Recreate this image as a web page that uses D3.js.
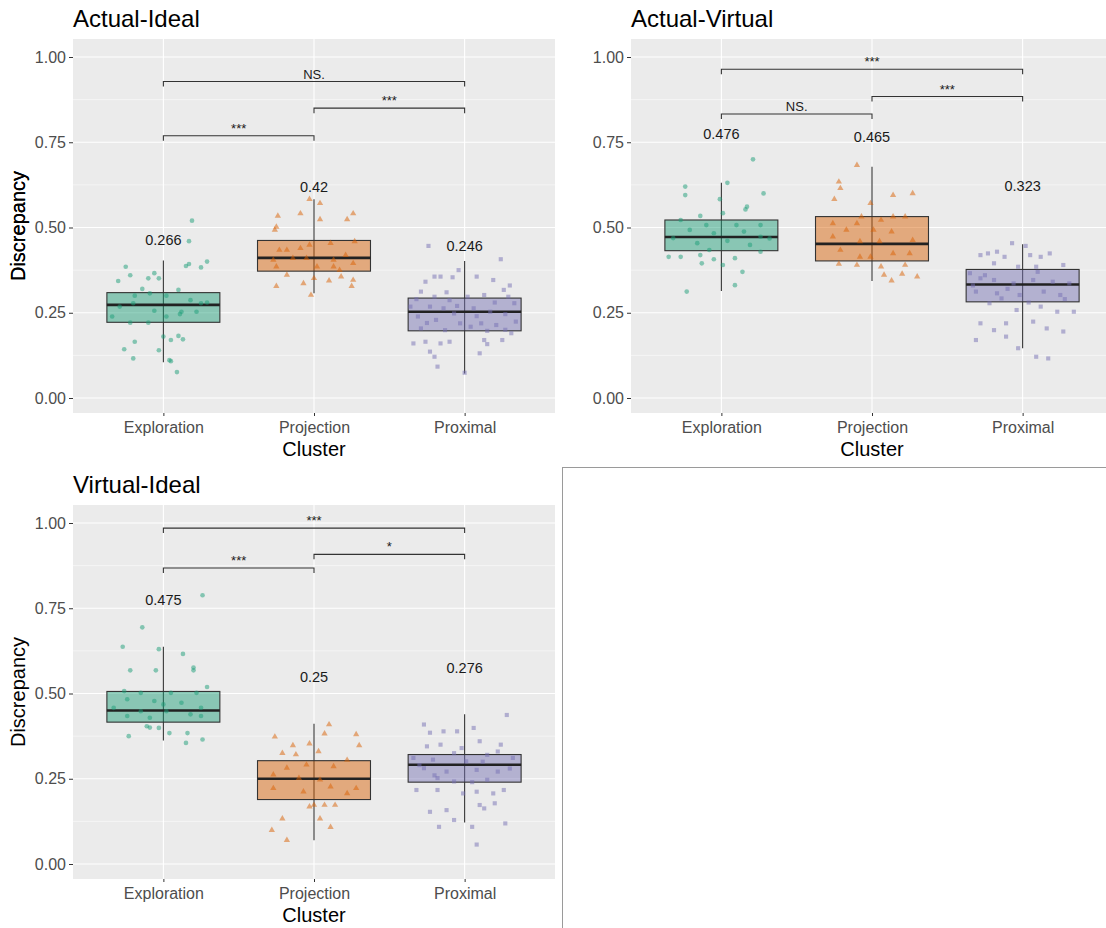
<!DOCTYPE html>
<meta charset="utf-8">
<style>
body { margin:0; background:#fff; }
svg { display:block; font-family:"Liberation Sans", Arial, sans-serif; }
.axis path.domain { display:none; }
.axis line { stroke:#333; }
.axis text { fill:#4d4d4d; font-size:16px; }
</style>
<body>
<svg width="1106" height="928" id="vis"></svg>
</body>
<script src="https://d3js.org/d3.v7.min.js"></script>
<script>
var categories = ["Exploration","Projection","Proximal"];
var colours = ["#1b9e77","#d95f02","#7570b3"];
var yTicks = [0, 0.25, 0.5, 0.75, 1];

// box stats per cluster: [whisker low, q1, median, q3, whisker high]
var actualIdealBox   = [[0.105,0.222,0.273,0.309,0.403],[0.307,0.372,0.411,0.462,0.583],[0.072,0.197,0.253,0.293,0.402]];
var actualVirtualBox = [[0.314,0.432,0.472,0.522,0.631],[0.343,0.402,0.452,0.532,0.678],[0.146,0.282,0.333,0.377,0.451]];
var virtualIdealBox  = [[0.362,0.416,0.450,0.506,0.637],[0.070,0.189,0.250,0.303,0.411],[0.122,0.240,0.291,0.321,0.439]];

// mean labels and the height they sit at
var actualIdealMeans   = ["0.266","0.42","0.246"],  actualIdealMeanY   = [0.465,0.618,0.446];
var actualVirtualMeans = ["0.476","0.465","0.323"], actualVirtualMeanY = [0.774,0.765,0.622];
var virtualIdealMeans  = ["0.475","0.25","0.276"],  virtualIdealMeanY  = [0.773,0.549,0.574];

// significance brackets: [from, to, height, label]
var actualIdealSig   = [[0,2,0.928,"NS."],[1,2,0.850,"***"],[0,1,0.769,"***"]];
var actualVirtualSig = [[0,2,0.964,"***"],[1,2,0.884,"***"],[0,1,0.833,"NS."]];
var virtualIdealSig  = [[0,2,0.985,"***"],[1,2,0.908,"*"],[0,1,0.868,"***"]];

// jittered observations: [jitter (category units), discrepancy]
var aiExploration = [[.19,.52],[.17,.46],[-.25,.385],[-.22,.36],[-.30,.343],[-.10,.351],[-.06,.366],[-.03,.351],[.15,.387],[.25,.383],[.29,.40],[.17,.393],[-.14,.32],[-.19,.30],[-.09,.307],[.10,.317],[.02,.30],[.18,.287],[.25,.278],[-.06,.256],[-.20,.278],[-.29,.268],[.12,.253],[.22,.253],[.29,.28],[-.34,.239],[-.22,.221],[-.10,.221],[.02,.239],[.11,.246],[0,.18],[.05,.17],[.10,.182],[.13,.172],[-.19,.165],[-.26,.143],[-.20,.116],[.04,.111],[.05,.108],[.09,.076],[-.03,.14]];
var aiProjection = [[-.03,.583],[.04,.571],[-.09,.541],[.04,.524],[.22,.524],[.26,.541],[-.24,.534],[-.25,.502],[-.26,.493],[-.23,.434],[-.18,.434],[-.09,.439],[-.03,.449],[.11,.454],[.27,.459],[-.27,.405],[-.14,.41],[-.05,.41],[.13,.405],[.21,.419],[.26,.395],[-.25,.385],[.02,.385],[.13,.385],[.17,.375],[0,.351],[-.07,.336],[-.25,.328],[.10,.344],[.18,.356],[.26,.346],[.25,.328],[-.02,.302],[-.18,.361]];
var aiProximal = [[-.24,.446],[.24,.407],[-.04,.375],[-.16,.356],[-.08,.354],[.08,.356],[.19,.346],[.26,.317],[-.26,.341],[-.29,.312],[-.20,.297],[-.10,.287],[.02,.297],[.13,.302],[.29,.297],[.33,.278],[-.36,.268],[-.23,.268],[-.14,.263],[-.07,.248],[.06,.263],[.17,.253],[.27,.246],[-.31,.239],[-.19,.229],[-.03,.219],[.11,.219],[.21,.214],[.34,.224],[-.29,.204],[-.13,.199],[.04,.209],[.15,.197],[-.26,.165],[-.16,.16],[-.10,.165],[.13,.17],[.15,.158],[.25,.17],[-.23,.136],[-.20,.121],[.10,.131],[-.18,.092],[0,.074],[-.34,.16],[.31,.19],[-.20,.356],[-.32,.29],[.30,.33],[-.05,.27],[.08,.24],[.20,.28],[-.25,.22],[.27,.20],[-.12,.31]];

var avExploration = [[.21,.70],[.04,.631],[-.24,.62],[-.24,.595],[.28,.60],[-.01,.583],[.17,.561],[.16,.553],[.01,.542],[-.14,.534],[-.27,.522],[-.10,.507],[.10,.507],[.26,.507],[-.21,.493],[.15,.488],[-.05,.483],[-.32,.469],[.26,.473],[.04,.461],[-.16,.454],[.19,.449],[.26,.429],[-.27,.414],[-.14,.419],[-.05,.407],[.09,.41],[-.13,.395],[.01,.39],[.14,.37],[-.23,.312],[.09,.331],[-.08,.434],[.32,.468],[-.35,.414]];
var avProjection = [[-.10,.683],[-.22,.634],[-.21,.615],[-.25,.583],[.14,.595],[.27,.60],[-.01,.571],[-.07,.532],[-.26,.512],[-.10,.512],[.06,.522],[.14,.532],[.22,.532],[-.17,.493],[.01,.493],[.13,.488],[-.26,.473],[-.08,.459],[.05,.459],[.27,.463],[-.21,.434],[-.01,.414],[.14,.424],[.25,.424],[-.22,.393],[-.10,.39],[.06,.385],[.22,.39],[.08,.361],[.13,.344],[.20,.364],[.30,.356],[-.08,.414]];
var avProximal = [[-.07,.454],[.02,.446],[-.28,.419],[-.23,.424],[-.17,.429],[-.12,.414],[.05,.419],[.12,.414],[.18,.424],[.27,.39],[-.19,.395],[-.03,.385],[.09,.385],[-.35,.366],[-.28,.351],[-.19,.346],[-.06,.336],[.07,.346],[.20,.341],[.31,.336],[-.31,.312],[-.17,.307],[-.02,.302],[.14,.312],[.25,.302],[-.22,.278],[-.04,.258],[.12,.268],[.23,.253],[-.28,.219],[-.19,.199],[-.11,.219],[.07,.224],[.16,.204],[.27,.195],[-.31,.17],[-.11,.18],[-.03,.146],[.09,.121],[.17,.116],[-.14,.292],[.34,.253],[-.25,.36],[.10,.37],[-.10,.32],[.28,.29],[-.33,.33],[.04,.28]];

var viExploration = [[.26,.788],[-.14,.694],[-.27,.637],[-.03,.63],[.13,.616],[-.22,.568],[-.05,.568],[.20,.576],[.20,.568],[.29,.519],[-.26,.507],[-.15,.502],[.05,.502],[.22,.502],[-.24,.483],[-.06,.478],[0,.468],[.12,.473],[.25,.458],[-.33,.458],[-.15,.448],[.02,.448],[.18,.439],[-.24,.434],[-.09,.429],[.25,.434],[-.11,.404],[-.03,.399],[.04,.384],[.16,.384],[-.23,.375],[.15,.355],[.26,.365],[-.09,.40]];
var viProjection = [[.10,.409],[-.26,.373],[.07,.382],[.28,.38],[-.14,.348],[-.03,.353],[.03,.33],[.30,.348],[-.21,.325],[-.12,.321],[.22,.305],[-.18,.282],[-.05,.291],[.13,.286],[-.27,.262],[-.10,.252],[.04,.247],[.28,.222],[-.27,.222],[-.07,.212],[.11,.227],[.22,.207],[-.03,.168],[.07,.173],[.14,.173],[-.21,.133],[.04,.133],[.11,.108],[-.28,.099],[-.18,.07],[0,.173]];
var viProximal = [[.28,.437],[-.27,.409],[-.23,.385],[-.14,.389],[-.05,.389],[.06,.399],[.10,.36],[.24,.35],[-.16,.35],[-.25,.345],[-.07,.325],[.15,.32],[.22,.33],[-.34,.311],[-.21,.306],[.01,.301],[.32,.311],[-.27,.281],[-.12,.271],[.08,.276],[.22,.271],[-.18,.252],[-.07,.242],[.15,.247],[-.32,.217],[-.18,.217],[-.01,.207],[.08,.212],[.19,.207],[.26,.217],[.10,.173],[.13,.163],[-.23,.153],[-.12,.158],[.20,.178],[-.17,.109],[.05,.109],[.27,.119],[.08,.057],[-.07,.129],[-.30,.29],[.30,.28],[-.02,.34],[.12,.30],[-.20,.26],[.05,.24]];

var panels = [
  {title:"Actual-Ideal",   left:73,  top:39,  box:actualIdealBox,   means:actualIdealMeans,   meanY:actualIdealMeanY,   sig:actualIdealSig,   pts:[aiExploration,aiProjection,aiProximal]},
  {title:"Actual-Virtual", left:631, top:39,  box:actualVirtualBox, means:actualVirtualMeans, meanY:actualVirtualMeanY, sig:actualVirtualSig, pts:[avExploration,avProjection,avProximal]},
  {title:"Virtual-Ideal",  left:73,  top:505, box:virtualIdealBox,  means:virtualIdealMeans,  meanY:virtualIdealMeanY,  sig:virtualIdealSig,  pts:[viExploration,viProjection,viProximal]}
];

var svg = d3.select("svg"),
    pw = 482, ph = 374;

// empty fourth cell
svg.append("rect")
    .attr("x", 562.5).attr("y", 467.5)
    .attr("width", 600).attr("height", 500)
    .attr("fill", "none").attr("stroke", "#9a9a9a");

panels.forEach(function(p) {
    var g = svg.append("g").attr("transform", "translate(" + p.left + "," + p.top + ")");

    var x = d3.scalePoint().domain(categories).range([0, pw]).padding(0.6);
    var y = d3.scaleLinear().domain([0, 1]).range([ph - 15, 18]);
    var step = x.step();

    g.append("rect").attr("width", pw).attr("height", ph).attr("fill", "#ebebeb");

    // minor + major gridlines
    [0.125, 0.375, 0.625, 0.875].forEach(function(v) {
        g.append("line").attr("x1", 0).attr("x2", pw).attr("y1", y(v)).attr("y2", y(v))
            .attr("stroke", "#fff").attr("stroke-width", 0.5);
    });
    yTicks.forEach(function(v) {
        g.append("line").attr("x1", 0).attr("x2", pw).attr("y1", y(v)).attr("y2", y(v))
            .attr("stroke", "#fff").attr("stroke-width", 1.1);
    });
    categories.forEach(function(c) {
        g.append("line").attr("x1", x(c)).attr("x2", x(c)).attr("y1", 0).attr("y2", ph)
            .attr("stroke", "#fff").attr("stroke-width", 1.1);
    });

    g.append("g").attr("class", "axis")
        .call(d3.axisLeft(y).tickValues(yTicks).tickFormat(d3.format(".2f")).tickSize(4).tickPadding(3));
    g.append("g").attr("class", "axis")
        .attr("transform", "translate(0," + ph + ")")
        .call(d3.axisBottom(x).tickSize(3).tickPadding(6));

    // boxes
    var bw = step * 0.75;
    p.box.forEach(function(b, i) {
        var cx = x(categories[i]);
        g.append("line").attr("x1", cx).attr("x2", cx).attr("y1", y(b[0])).attr("y2", y(b[4]))
            .attr("stroke", "#333").attr("stroke-width", 1.1);
        g.append("rect").attr("x", cx - bw / 2).attr("width", bw)
            .attr("y", y(b[3])).attr("height", y(b[1]) - y(b[3]))
            .attr("fill", colours[i]).attr("fill-opacity", 0.47)
            .attr("stroke", "#333").attr("stroke-width", 1.1);
        g.append("line").attr("x1", cx - bw / 2).attr("x2", cx + bw / 2)
            .attr("y1", y(b[2])).attr("y2", y(b[2]))
            .attr("stroke", "#222").attr("stroke-width", 2.6);
    });

    // points
    p.pts.forEach(function(arr, i) {
        var cx = x(categories[i]);
        var sym = [d3.symbolCircle, d3.symbolTriangle, d3.symbolSquare][i];
        g.selectAll(null).data(arr).enter().append("path")
            .attr("d", d3.symbol().type(sym).size(17))
            .attr("transform", function(d) { return "translate(" + (cx + d[0] * step) + "," + y(d[1]) + ")"; })
            .attr("fill", colours[i]).attr("fill-opacity", 0.5);
    });

    // mean labels
    p.means.forEach(function(m, i) {
        g.append("text").attr("x", x(categories[i])).attr("y", y(p.meanY[i])).attr("dy", "0.35em")
            .attr("text-anchor", "middle").attr("font-size", 14.5).attr("fill", "#1a1a1a").text(m);
    });

    // significance brackets
    p.sig.forEach(function(s) {
        var x1 = x(categories[s[0]]), x2 = x(categories[s[1]]), yy = y(s[2]);
        g.append("path").attr("d", "M" + x1 + "," + (yy + 5) + "V" + yy + "H" + x2 + "V" + (yy + 5))
            .attr("fill", "none").attr("stroke", "#333").attr("stroke-width", 1.1);
        g.append("text").attr("x", (x1 + x2) / 2).attr("y", yy - 3)
            .attr("text-anchor", "middle").attr("font-size", 13).attr("fill", "#1a1a1a").text(s[3]);
    });

    g.append("text").attr("x", 0).attr("y", -12).attr("font-size", 24).attr("fill", "#000").text(p.title);
    g.append("text").attr("x", pw / 2).attr("y", ph + 43).attr("text-anchor", "middle")
        .attr("font-size", 20).attr("fill", "#000").text("Cluster");
    g.append("text").attr("transform", "translate(" + (25 - p.left) + "," + (ph / 2) + ") rotate(-90)")
        .attr("text-anchor", "middle").attr("font-size", 20).attr("fill", "#000").text("Discrepancy");
});
</script>
